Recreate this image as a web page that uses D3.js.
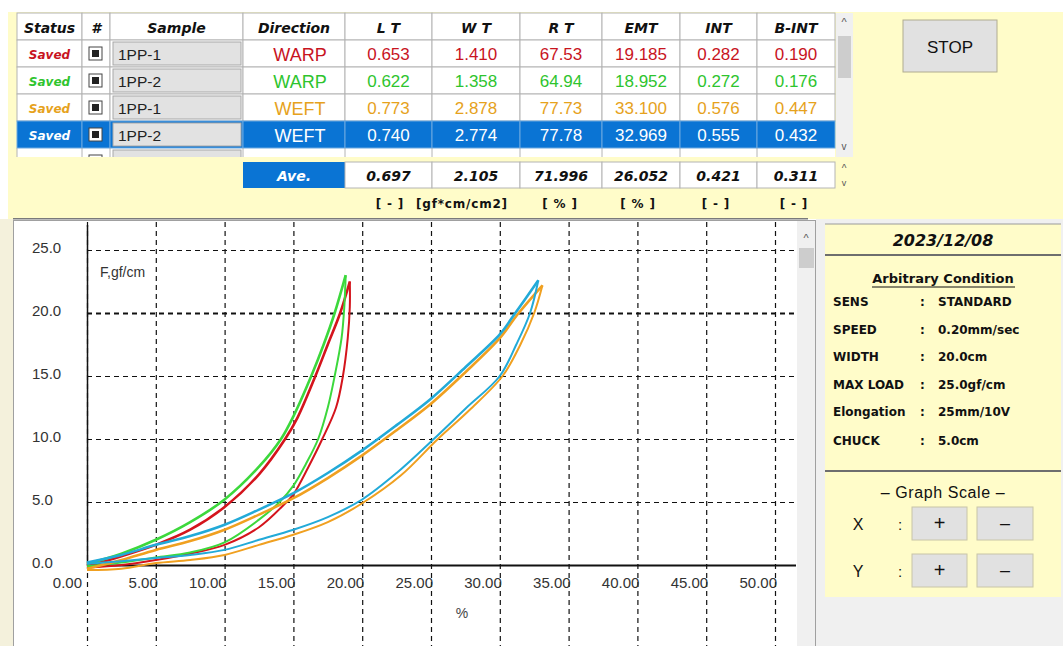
<!DOCTYPE html>
<html><head><meta charset="utf-8">
<script src="https://cdn.jsdelivr.net/npm/d3@7"></script>
<style>
html,body{margin:0;padding:0;background:#fff;overflow:hidden}
svg{display:block}
</style></head><body>
<svg id="c" width="1063" height="646"></svg>
<script>
// ---------- DATA ----------
const headers = ["Status","#","Sample","Direction","L T","W T","R T","EMT","INT","B-INT"];
const statuses = ["Saved","Saved","Saved","Saved"];
const sampleNames = ["1PP-1","1PP-2","1PP-1","1PP-2"];
const directions = ["WARP","WARP","WEFT","WEFT"];
const ltValues = ["0.653","0.622","0.773","0.740"];
const wtValues = ["1.410","1.358","2.878","2.774"];
const rtValues = ["67.53","64.94","77.73","77.78"];
const emtValues = ["19.185","18.952","33.100","32.969"];
const intValues = ["0.282","0.272","0.576","0.555"];
const bintValues = ["0.190","0.176","0.447","0.432"];
const aveLabel = "Ave.";
const aveValues = ["0.697","2.105","71.996","26.052","0.421","0.311"];
const unitLabels = ["[ - ]","[gf*cm/cm2]","[ % ]","[ % ]","[ - ]","[ - ]"];
const selectedRow = 3;
const stopLabel = "STOP";
const dateText = "2023/12/08";
const condTitle = "Arbitrary Condition";
const condLabels = ["SENS","SPEED","WIDTH","MAX LOAD","Elongation","CHUCK"];
const condValues = ["STANDARD","0.20mm/sec","20.0cm","25.0gf/cm","25mm/10V","5.0cm"];
const scaleTitle = "\u2013 Graph Scale \u2013";
const scaleAxes = ["X","Y"];
const xTicks = [0,5,10,15,20,25,30,35,40,45,50];
const yTicks = [0,5,10,15,20,25];
const yLabel = "F,gf/cm";
const xLabel = "%";
// hysteresis curves [strain %, force gf/cm]
const redLoad = [[0,-0.1],[2.5,0.7],[5,1.6],[7.5,2.8],[10,4.6],[12.5,7.2],[14.4,10],[15.3,11.7],[16.6,15],[17.5,17.5],[18.4,20],[19.1,22.5]];
const redUnload = [[19.1,22.5],[19.1,20.5],[18.95,18],[18.6,15],[18.1,12.5],[17.1,10],[16.1,7.8],[15,5.6],[14.5,5.0],[12.5,3.0],[10,1.6],[7.5,0.9],[5,0.4],[2.5,0.0],[0,-0.2]];
const greenLoad = [[0,0.1],[2.5,0.9],[5,2.0],[7.5,3.4],[10,5.2],[12.5,7.8],[14.1,10],[15,11.8],[16.3,15],[17.2,17.5],[18,20],[18.8,23]];
const greenUnload = [[18.8,23],[18.7,20.5],[18.5,18],[18.0,15],[17.5,12.5],[16.8,10],[15.9,8],[15,6.3],[14.0,5.0],[12.5,3.6],[10,1.8],[7.5,1.0],[5,0.6],[2.5,0.2],[0,-0.1]];
const orangeLoad = [[0,-0.3],[2.5,0.4],[5,1.2],[7.5,1.9],[10,2.8],[12.5,4.0],[15,5.3],[17.5,6.9],[20,8.7],[22.5,10.7],[25,12.8],[27.5,15.3],[30,18.0],[31.3,19.9],[33.1,22.2]];
const orangeUnload = [[33.1,22.2],[32.5,20],[31.5,17.5],[30.2,15],[27.8,12.3],[25.5,10],[22.8,7.1],[20,4.9],[17.5,3.4],[15,2.4],[12.5,1.6],[10,0.8],[7.5,0.4],[5,0.15],[2.5,-0.3],[0,-0.4]];
const blueLoad = [[0,0.2],[2.5,0.8],[5,1.6],[7.5,2.3],[10,3.2],[12.5,4.4],[15,5.7],[17.5,7.3],[20,9.1],[22.5,11.1],[25,13.2],[27.5,15.7],[30,18.3],[31,19.8],[32.8,22.6]];
const blueUnload = [[32.8,22.6],[32.2,20],[31.2,17.5],[30,15],[27.5,12.4],[25.2,10],[22.5,7.3],[20,5.2],[17.5,3.8],[15,2.8],[12.5,2.0],[10,1.2],[7.5,0.8],[5,0.55],[2.5,0.3],[0,0.1]];

// ---------- STYLE ----------
const YEL = "#fffcc9";
const rowText = ["#c8141e","#2ec42e","#e6a21c","#ffffff"];
const curveColors = ["#d4141c","#3cd83c","#f0a020","#22aad8"];
const BLUE = "#0a74d4";

const svg = d3.select("#c");
const SANS = "'Liberation Sans', Arial, sans-serif";
const NARROW = "'Liberation Sans Narrow','Arial Narrow','Liberation Sans',sans-serif";
const BOLDF = "'DejaVu Sans', Verdana, sans-serif";

// backgrounds
svg.append("rect").attr("x",0).attr("y",0).attr("width",1063).attr("height",646).attr("fill","#ffffff");
svg.append("rect").attr("x",8).attr("y",12).attr("width",1055).attr("height",207).attr("fill",YEL);
svg.append("line").attr("x1",13).attr("x2",808).attr("y1",218.5).attr("y2",218.5).attr("stroke","#7a7a7a").attr("stroke-width",2);
svg.append("rect").attr("x",0).attr("y",219).attr("width",13).attr("height",427).attr("fill","#f4f1dc");

// ---------- TABLE ----------
const colEdges = [17,82,110,243,345,432,520,602,680,757,835];
const headY0 = 13, rowH = 27;
const cellLine = "#b4b4b4";
const g = svg.append("g");
g.append("rect").attr("x",17).attr("y",13).attr("width",818).attr("height",144).attr("fill","#ffffff");
headers.forEach((h,i)=>{
  const x0 = colEdges[i], x1 = colEdges[i+1];
  g.append("rect").attr("x",x0).attr("y",headY0).attr("width",x1-x0).attr("height",rowH).attr("fill","#fff").attr("stroke",cellLine);
  g.append("text").attr("x",(x0+x1)/2).attr("y",headY0+rowH/2+1).attr("text-anchor","middle").attr("dominant-baseline","central")
    .attr("font-family",BOLDF).attr("font-weight","bold").attr("font-style","italic").attr("font-size",14).attr("fill","#111").text(h);
});
const rowCols = [ltValues,wtValues,rtValues,emtValues,intValues,bintValues];
statuses.forEach((s,r)=>{
  const y0 = headY0 + rowH*(r+1);
  const sel = r===selectedRow;
  const fill = sel ? BLUE : "#fff";
  for(let i=0;i<10;i++){
    const x0 = colEdges[i], x1 = colEdges[i+1];
    g.append("rect").attr("x",x0).attr("y",y0).attr("width",x1-x0).attr("height",rowH).attr("fill",fill).attr("stroke",sel? "#6aa8e0":cellLine);
  }
  const cy = y0 + rowH/2 + 1;
  const col = rowText[r];
  g.append("text").attr("x",(colEdges[0]+colEdges[1])/2).attr("y",cy).attr("text-anchor","middle").attr("dominant-baseline","central")
    .attr("font-family",BOLDF).attr("font-weight","bold").attr("font-style","italic").attr("font-size",12).attr("fill",col).text(s);
  g.append("rect").attr("x",89).attr("y",y0+7).attr("width",13).attr("height",13).attr("fill","#fff").attr("stroke","#444");
  g.append("rect").attr("x",92).attr("y",y0+10).attr("width",7).attr("height",7).attr("fill","#222");
  g.append("rect").attr("x",113).attr("y",y0+2).attr("width",128).attr("height",rowH-4).attr("fill","#e2e2e2").attr("stroke","#a8a8a8");
  g.append("text").attr("x",118).attr("y",cy).attr("dominant-baseline","central").attr("font-family",SANS).attr("font-size",15.5).attr("fill","#222").text(sampleNames[r]);
  g.append("text").attr("x",(colEdges[3]+colEdges[4])/2+6).attr("y",cy).attr("text-anchor","middle").attr("dominant-baseline","central")
    .attr("font-family",SANS).attr("font-size",18).attr("fill",col).text(directions[r]);
  rowCols.forEach((vals,k)=>{
    const x0 = colEdges[4+k], x1 = colEdges[5+k];
    g.append("text").attr("x",(x0+x1)/2).attr("y",cy).attr("text-anchor","middle").attr("dominant-baseline","central")
      .attr("font-family",NARROW).attr("font-size",17).attr("fill",col).text(vals[r]);
  });
});
{
  const y0 = headY0 + rowH*5;
  g.append("rect").attr("x",89).attr("y",y0+7).attr("width",13).attr("height",13).attr("fill","#fff").attr("stroke","#444");
  g.append("rect").attr("x",92).attr("y",y0+10).attr("width",7).attr("height",7).attr("fill","#222");
  g.append("rect").attr("x",113).attr("y",y0+2).attr("width",128).attr("height",rowH-4).attr("fill","#e2e2e2").attr("stroke","#a8a8a8");
  for(let i=0;i<10;i++){ g.append("line").attr("x1",colEdges[i]).attr("x2",colEdges[i]).attr("y1",y0).attr("y2",y0+10).attr("stroke",cellLine); }
}
svg.append("rect").attr("x",10).attr("y",157).attr("width",845).attr("height",61).attr("fill",YEL);
svg.append("rect").attr("x",836).attr("y",13).attr("width",17).attr("height",144).attr("fill","#f0f0f0");
svg.append("rect").attr("x",838).attr("y",36).attr("width",13).attr("height",42).attr("fill","#cdcdcd");
svg.append("text").attr("x",844).attr("y",26).attr("text-anchor","middle").attr("font-family",SANS).attr("font-size",11).attr("fill","#555").text("^");
svg.append("text").attr("x",844).attr("y",150).attr("text-anchor","middle").attr("font-family",SANS).attr("font-size",10).attr("fill","#555").text("v");
svg.append("rect").attr("x",243).attr("y",162).attr("width",102).attr("height",26).attr("fill",BLUE);
svg.append("text").attr("x",294).attr("y",176).attr("text-anchor","middle").attr("dominant-baseline","central")
  .attr("font-family",BOLDF).attr("font-weight","bold").attr("font-style","italic").attr("font-size",14).attr("fill","#fff").text(aveLabel);
aveValues.forEach((v,k)=>{
  const x0 = colEdges[4+k], x1 = colEdges[5+k];
  svg.append("rect").attr("x",x0).attr("y",162).attr("width",x1-x0).attr("height",26).attr("fill","#fff").attr("stroke",cellLine);
  svg.append("text").attr("x",(x0+x1)/2).attr("y",176).attr("text-anchor","middle").attr("dominant-baseline","central")
    .attr("font-family",BOLDF).attr("font-weight","bold").attr("font-style","italic").attr("font-size",14).attr("fill","#111").text(v);
});
svg.append("text").attr("x",844).attr("y",172).attr("text-anchor","middle").attr("font-family",SANS).attr("font-size",10).attr("fill","#555").text("^");
svg.append("text").attr("x",844).attr("y",186).attr("text-anchor","middle").attr("font-family",SANS).attr("font-size",9).attr("fill","#555").text("v");
const unitX = [390,462,560,638,716,794];
unitLabels.forEach((u,k)=>{
  svg.append("text").attr("x",unitX[k]).attr("y",204).attr("text-anchor","middle").attr("dominant-baseline","central")
    .attr("font-family",BOLDF).attr("font-weight","bold").attr("font-size",12).attr("letter-spacing",0.8).attr("fill","#111").attr("xml:space","preserve").text(u);
});
svg.append("rect").attr("x",903).attr("y",20).attr("width",94).attr("height",52).attr("fill","#e1e1e1").attr("stroke","#b0ab90");
svg.append("text").attr("x",950).attr("y",47).attr("text-anchor","middle").attr("dominant-baseline","central")
  .attr("font-family",SANS).attr("font-size",17).attr("fill","#111").text(stopLabel);

// ---------- CHART ----------
svg.append("rect").attr("x",13.5).attr("y",220.5).attr("width",802).attr("height",430).attr("fill","#fff").attr("stroke","#a0a0a0");
const x = d3.scaleLinear().domain([0,50]).range([87,775]);
const y = d3.scaleLinear().domain([0,25]).range([565,250]);
const plotTop = 222, plotRight = 796, plotBottom = 646;
const cg = svg.append("g");
cg.selectAll(".vg").data(xTicks).join("line")
  .attr("x1",d=>x(d)+0.5).attr("x2",d=>x(d)+0.5).attr("y1",plotTop).attr("y2",plotBottom)
  .attr("stroke","#111").attr("stroke-width",1.2).attr("stroke-dasharray","5,4");
cg.selectAll(".hg").data(yTicks.filter(d=>d>0)).join("line")
  .attr("x1",x(0)).attr("x2",plotRight).attr("y1",d=>y(d)+0.5).attr("y2",d=>y(d)+0.5)
  .attr("stroke","#111").attr("stroke-width",d=>d===20?2.2:1.2).attr("stroke-dasharray","5,4");
cg.append("line").attr("x1",x(0)+0.5).attr("x2",x(0)+0.5).attr("y1",plotTop+3).attr("y2",y(0)).attr("stroke","#111").attr("stroke-width",1.5);
cg.append("line").attr("x1",x(0)).attr("x2",plotRight).attr("y1",y(0)+0.5).attr("y2",y(0)+0.5).attr("stroke","#111").attr("stroke-width",2);
cg.selectAll(".yl").data(yTicks).join("text")
  .attr("x",32).attr("y",d=>y(d)-3).attr("dominant-baseline","central")
  .attr("font-family",NARROW).attr("font-size",15).attr("fill","#333").text(d=>d.toFixed(1));
cg.selectAll(".xl").data(xTicks).join("text")
  .attr("x",d=>x(d)+(d===0?-5:2)).attr("y",582).attr("text-anchor","end").attr("dominant-baseline","central")
  .attr("font-family",NARROW).attr("font-size",15).attr("fill","#333").text(d=>d.toFixed(2));
cg.append("text").attr("x",100).attr("y",272).attr("dominant-baseline","central").attr("font-family",SANS).attr("font-size",14).attr("fill","#333").text(yLabel);
cg.append("text").attr("x",462).attr("y",613).attr("text-anchor","middle").attr("dominant-baseline","central").attr("font-family",SANS).attr("font-size",14).attr("fill","#444").text(xLabel);

const line = d3.line().x(d=>x(d[0])).y(d=>y(d[1])).curve(d3.curveCatmullRom.alpha(0.5));
const loops = [[redLoad,redUnload],[greenLoad,greenUnload],[orangeLoad,orangeUnload],[blueLoad,blueUnload]];
loops.forEach((lp,i)=>{
  cg.append("path").attr("d",line(lp[0])).attr("fill","none").attr("stroke",curveColors[i]).attr("stroke-width",2.6).attr("stroke-linejoin","round");
  cg.append("path").attr("d",line(lp[1])).attr("fill","none").attr("stroke",curveColors[i]).attr("stroke-width",2).attr("stroke-linejoin","round");
});
svg.append("rect").attr("x",797).attr("y",221).attr("width",18).attr("height",425).attr("fill","#f0f0f0");
svg.append("rect").attr("x",799).attr("y",248).attr("width",15).attr("height",20).attr("fill","#cdcdcd");
svg.append("text").attr("x",806).attr("y",242).attr("text-anchor","middle").attr("font-family",SANS).attr("font-size",11).attr("fill","#555").text("^");

// ---------- RIGHT PANEL ----------
svg.append("rect").attr("x",816).attr("y",219).attr("width",247).attr("height",427).attr("fill","#f0f0f0");
svg.append("rect").attr("x",825).attr("y",224).attr("width",236).attr("height",373).attr("fill",YEL);
svg.append("line").attr("x1",825).attr("x2",1061).attr("y1",224).attr("y2",224).attr("stroke","#9a9a9a").attr("stroke-width",1);
svg.append("line").attr("x1",825).attr("x2",1061).attr("y1",255).attr("y2",255).attr("stroke","#6e6e6e").attr("stroke-width",2);
svg.append("line").attr("x1",825).attr("x2",1061).attr("y1",471).attr("y2",471).attr("stroke","#6e6e6e").attr("stroke-width",2);
svg.append("text").attr("x",943).attr("y",240).attr("text-anchor","middle").attr("dominant-baseline","central")
  .attr("font-family",BOLDF).attr("font-weight","bold").attr("font-style","italic").attr("font-size",16).attr("fill","#111").text(dateText);
svg.append("text").attr("x",943).attr("y",278).attr("text-anchor","middle").attr("dominant-baseline","central")
  .attr("font-family",BOLDF).attr("font-weight","bold").attr("font-size",13).attr("fill","#111").text(condTitle);
svg.append("line").attr("x1",872).attr("x2",1015).attr("y1",287).attr("y2",287).attr("stroke","#111").attr("stroke-width",1);
const condY = [302,330,357,385,412,441];
condLabels.forEach((l,i)=>{
  svg.append("text").attr("x",833).attr("y",condY[i]).attr("dominant-baseline","central").attr("font-family",BOLDF).attr("font-weight","bold").attr("font-size",12).attr("fill","#111").text(l);
  svg.append("text").attr("x",920).attr("y",condY[i]).attr("dominant-baseline","central").attr("font-family",BOLDF).attr("font-weight","bold").attr("font-size",12).attr("fill","#111").text(":");
  svg.append("text").attr("x",938).attr("y",condY[i]).attr("dominant-baseline","central").attr("font-family",BOLDF).attr("font-weight","bold").attr("font-size",12).attr("fill","#111").text(condValues[i]);
});
svg.append("text").attr("x",943).attr("y",492).attr("text-anchor","middle").attr("dominant-baseline","central")
  .attr("font-family",SANS).attr("font-size",16).attr("letter-spacing",0.6).attr("fill","#111").text(scaleTitle);
const btnY = [507,554];
scaleAxes.forEach((a,i)=>{
  const by = btnY[i];
  svg.append("text").attr("x",858).attr("y",by+17).attr("text-anchor","middle").attr("dominant-baseline","central").attr("font-family",SANS).attr("font-size",16).attr("fill","#111").text(a);
  svg.append("text").attr("x",900).attr("y",by+17).attr("text-anchor","middle").attr("dominant-baseline","central").attr("font-family",SANS).attr("font-size",15).attr("fill","#111").text(":");
  svg.append("rect").attr("x",912).attr("y",by).attr("width",55).attr("height",33).attr("fill","#e1e1e1").attr("stroke","#c8c4a8");
  svg.append("rect").attr("x",977).attr("y",by).attr("width",56).attr("height",33).attr("fill","#e1e1e1").attr("stroke","#c8c4a8");
  svg.append("text").attr("x",939.5).attr("y",by+16).attr("text-anchor","middle").attr("dominant-baseline","central").attr("font-family",SANS).attr("font-size",20).attr("fill","#111").text("+");
  svg.append("text").attr("x",1005).attr("y",by+16).attr("text-anchor","middle").attr("dominant-baseline","central").attr("font-family",SANS).attr("font-size",18).attr("fill","#111").text("\u2013");
});
</script>
</body></html>
